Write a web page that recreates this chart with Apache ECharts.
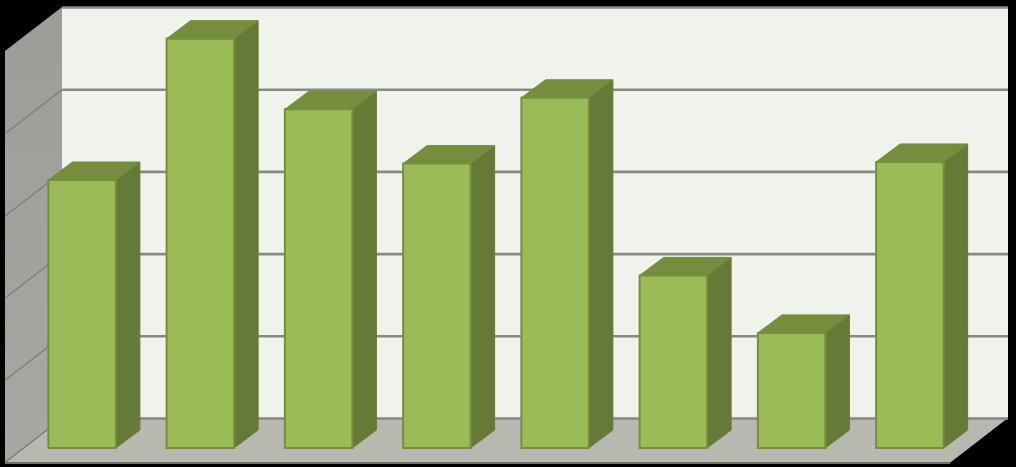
<!DOCTYPE html>
<html>
<head>
<meta charset="utf-8">
<style>html,body{margin:0;padding:0;background:#000}#c{width:1016px;height:467px}</style>
<script src="https://cdn.jsdelivr.net/npm/echarts@6/dist/echarts.min.js"></script>
</head>
<body>
<div id="c"></div>
<script>
const categories = ['1','2','3','4','5','6','7','8'];
const values = [3.26, 4.98, 4.12, 3.46, 4.26, 2.10, 1.40, 3.48];
const gridValues = [0, 1, 2, 3, 4, 5];
const yMax = 5;

const wallDX = 57, wallDY = -44;
const barOffX = 18, barOffY = -14;
const barDX = 24, barDY = -18;
const barW = 67.5;

const chart = echarts.init(document.getElementById('c'), null, {renderer:'canvas'});

function frame(api){
  const band = api.size([1,0])[0];
  const l = api.coord([0,0])[0]-band/2;
  const r = api.coord([categories.length-1,0])[0]+band/2;
  return {l, r, b: api.coord([0,0])[1], t: api.coord([0,yMax])[1]};
}
function poly(points, fill, extra){
  return Object.assign({type:'polygon', shape:{points}, style:{fill}}, extra||{});
}

const wallsItem = (params, api) => {
  const f = frame(api);
  return {type:'group', children:[
    poly([[f.l+wallDX,f.t+wallDY],[f.r+wallDX,f.t+wallDY],[f.r+wallDX,f.b+wallDY],[f.l+wallDX,f.b+wallDY]], '#F0F3EC'),
    poly([[f.l,f.t],[f.l+wallDX,f.t+wallDY],[f.l+wallDX,f.b+wallDY],[f.l,f.b]],
      new echarts.graphic.LinearGradient(0,0,0,1,[{offset:0,color:'#9B9D98'},{offset:1,color:'#A6A8A2'}])),
    poly([[f.l,f.b-1],[f.r,f.b-1],[f.r-1,f.b+2],[f.l,f.b+2]], '#6F706C'),
    poly([[f.l,f.b],[f.r,f.b],[f.r+wallDX,f.b+wallDY],[f.l+wallDX,f.b+wallDY]], '#B7B9B1')
  ]};
};

const gridItem = (params, api) => {
  const f = frame(api);
  const y = api.coord([0, api.value(0)])[1] + 0.5;
  const top = api.value(0) === yMax;
  const kids = [
    {type:'line', shape:{x1:f.l+wallDX,y1:y+wallDY,x2:f.r+wallDX,y2:y+wallDY}, style:{stroke:'#888985',lineWidth:2.6}}
  ];
  if(!top){
    kids.push({type:'line', shape:{x1:f.l,y1:y,x2:f.l+wallDX,y2:y+wallDY}, style:{stroke:'#7D7E7A',lineWidth:1.3}});
  }
  return {type:'group', children:kids};
};

const barItem = (params, api) => {
  const c0 = api.coord([api.value(0),0]);
  const c1 = api.coord([api.value(0),api.value(1)]);
  const x0 = c0[0]+barOffX-barW/2, x1 = x0+barW;
  const yb = c0[1]+barOffY, yt = c1[1]+barOffY;
  return {type:'group', children:[
    poly([[x1,yt],[x1+barDX,yt+barDY],[x1+barDX,yb+barDY],[x1,yb]], '#667A38', {style:{fill:'#667A38',stroke:'#667A38',lineWidth:1}}),
    poly([[x0,yt],[x0+barDX,yt+barDY],[x1+barDX,yt+barDY],[x1,yt]], '#758D3C', {style:{fill:'#758D3C',stroke:'#728A3B',lineWidth:1}}),
    {type:'rect', shape:{x:x0,y:yt,width:barW,height:yb-yt}, style:{fill:'#9BBB59',stroke:'#74903B',lineWidth:2}}
  ]};
};

chart.setOption({
  backgroundColor:'#000000',
  animation:false,
  grid:{left:5,right:65,top:51,bottom:5,containLabel:false},
  xAxis:{type:'category',data:categories,show:false},
  yAxis:{type:'value',min:0,max:yMax,interval:1,show:false},
  series:[
    {type:'custom',silent:true,clip:false,z:1,data:[[0]],encode:{x:0},renderItem:wallsItem},
    {type:'custom',silent:true,clip:false,z:2,data:gridValues.map(v=>[v]),encode:{y:0},renderItem:gridItem},
    {type:'custom',silent:true,clip:false,z:3,data:values.map((v,i)=>[i,v]),encode:{x:0,y:1},renderItem:barItem}
  ]
});
</script>
</body>
</html>
